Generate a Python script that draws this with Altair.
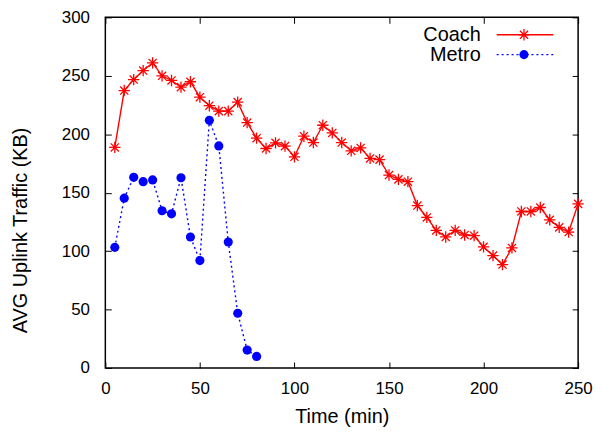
import altair as alt
import pandas as pd

# ---- data ----
coach_time = [5, 10, 15, 20, 25, 30, 35, 40, 45, 50,
              55, 60, 65, 70, 75, 80, 85, 90, 95, 100,
              105, 110, 115, 120, 125, 130, 135, 140, 145, 150,
              155, 160, 165, 170, 175, 180, 185, 190, 195, 200,
              205, 210, 215, 220, 225, 230, 235, 240, 245, 250]
coach_kb = [188.7, 237.4, 246.8, 254.5, 261.0, 250.0, 246.0, 240.3, 244.9, 231.7,
            224.4, 219.8, 219.8, 227.5, 210.0, 196.6, 187.8, 192.6, 189.8, 180.7,
            198.3, 192.9, 207.7, 201.1, 192.9, 185.8, 188.3, 179.3, 178.3, 165.1,
            161.4, 159.4, 139.0, 128.8, 117.7, 112.1, 117.7, 113.8, 113.2, 103.6,
            96.2, 88.5, 102.7, 133.9, 133.9, 137.3, 126.8, 120.3, 116.3, 140.4]

metro_time = [5, 10, 15, 20, 25, 30, 35, 40, 45, 50, 55, 60, 65, 70, 75, 80]
metro_kb = [103.2, 145.3, 163.1, 159.4, 160.9, 134.5, 131.9, 162.8,
            112.1, 91.9, 211.9, 190.0, 107.8, 46.8, 15.3, 9.9]

x_ticks = [0, 50, 100, 150, 200, 250]
y_ticks = [0, 50, 100, 150, 200, 250, 300]
series_names = ["Coach", "Metro"]

coach_df = pd.DataFrame({"t": coach_time, "v": coach_kb})
metro_df = pd.DataFrame({"t": metro_time, "v": metro_kb})

FONT = "Liberation Sans"
RED = "#ff0000"
BLUE = "#0000ff"
ASTERISK = ("M-1,0L1,0M0,-1L0,1M-0.72,-0.72L0.72,0.72M-0.72,0.72L0.72,-0.72")

xscale = alt.Scale(domain=[0, 250], nice=False)
yscale = alt.Scale(domain=[0, 300], nice=False)

common_axis = dict(domain=False, ticks=True, tickSize=6, offset=-6,
                   tickColor="black", tickWidth=1, grid=False)

x_bottom = alt.X("t:Q", scale=xscale, axis=alt.Axis(
    values=x_ticks, title="Time (min)", labelFont=FONT, labelFontSize=17,
    labelColor="black", labelPadding=13, labelFlush=False,
    titleFont=FONT, titleFontSize=20,
    titleFontWeight="normal", titleColor="black", titleBaseline="alphabetic",
    titleY=60.5, **common_axis))
y_left = alt.Y("v:Q", scale=yscale, axis=alt.Axis(
    values=y_ticks, title="AVG Uplink Traffic (KB)", labelFont=FONT,
    labelFontSize=17, labelColor="black", labelPadding=16, titleFont=FONT,
    titleFontSize=20, titleFontWeight="normal", titleColor="black",
    titleBaseline="alphabetic", titleX=-85, titleY=214, **common_axis))

x_top = alt.X("t:Q", scale=xscale, axis=alt.Axis(
    orient="top", values=x_ticks, labels=False, title=None, **common_axis))
y_right = alt.Y("v:Q", scale=yscale, axis=alt.Axis(
    orient="right", values=y_ticks, labels=False, title=None, **common_axis))

coach_line = alt.Chart(coach_df).mark_line(color=RED, strokeWidth=1.4).encode(
    x=x_bottom, y=y_left)
coach_pts = alt.Chart(coach_df).mark_point(
    shape=ASTERISK, size=130, color=RED, strokeWidth=1.3, filled=False, opacity=1
).encode(x=alt.X("t:Q", scale=xscale, axis=None),
         y=alt.Y("v:Q", scale=yscale, axis=None))

metro_line = alt.Chart(metro_df).mark_line(
    color=BLUE, strokeWidth=1.4, strokeDash=[2, 3]).encode(x=x_top, y=y_right)
metro_pts = alt.Chart(metro_df).mark_point(
    shape="circle", size=85, color=BLUE, filled=True, opacity=1
).encode(x=alt.X("t:Q", scale=xscale, axis=None),
         y=alt.Y("v:Q", scale=yscale, axis=None))

# ---- manual legend (top right, gnuplot style) ----
one = pd.DataFrame({"k": [0]})

leg_text_coach = alt.Chart(one).mark_text(
    align="right", baseline="middle", font=FONT, fontSize=20, color="black"
).encode(x=alt.value(378), y=alt.value(17.5), text=alt.value(series_names[0]))
leg_text_metro = alt.Chart(one).mark_text(
    align="right", baseline="middle", font=FONT, fontSize=20, color="black"
).encode(x=alt.value(378), y=alt.value(37.5), text=alt.value(series_names[1]))
leg_rule_coach = alt.Chart(one).mark_rule(color=RED, strokeWidth=1.4).encode(
    x=alt.value(394), x2=alt.value(451), y=alt.value(17.5))
leg_rule_metro = alt.Chart(one).mark_rule(
    color=BLUE, strokeWidth=1.4, strokeDash=[2, 3]).encode(
    x=alt.value(394), x2=alt.value(451), y=alt.value(37.5))
leg_pt_coach = alt.Chart(one).mark_point(
    shape=ASTERISK, size=130, color=RED, strokeWidth=1.3, filled=False, opacity=1
).encode(x=alt.value(421.5), y=alt.value(17.5))
leg_pt_metro = alt.Chart(one).mark_point(
    shape="circle", size=85, color=BLUE, filled=True, opacity=1
).encode(x=alt.value(421.5), y=alt.value(37.5))

chart = alt.layer(
    coach_line, metro_line, coach_pts, metro_pts,
    leg_rule_coach, leg_rule_metro, leg_pt_coach, leg_pt_metro,
    leg_text_coach, leg_text_metro,
).resolve_axis(x="independent", y="independent").properties(
    width=476, height=353,
    autosize=alt.AutoSizeParams(type="none"),
    padding={"left": 98, "top": 8, "right": 17, "bottom": 59},
    background="white",
).configure_view(stroke="black", strokeWidth=1.5)

chart.save("out.html", embed_options={"renderer": "svg", "actions": False})
